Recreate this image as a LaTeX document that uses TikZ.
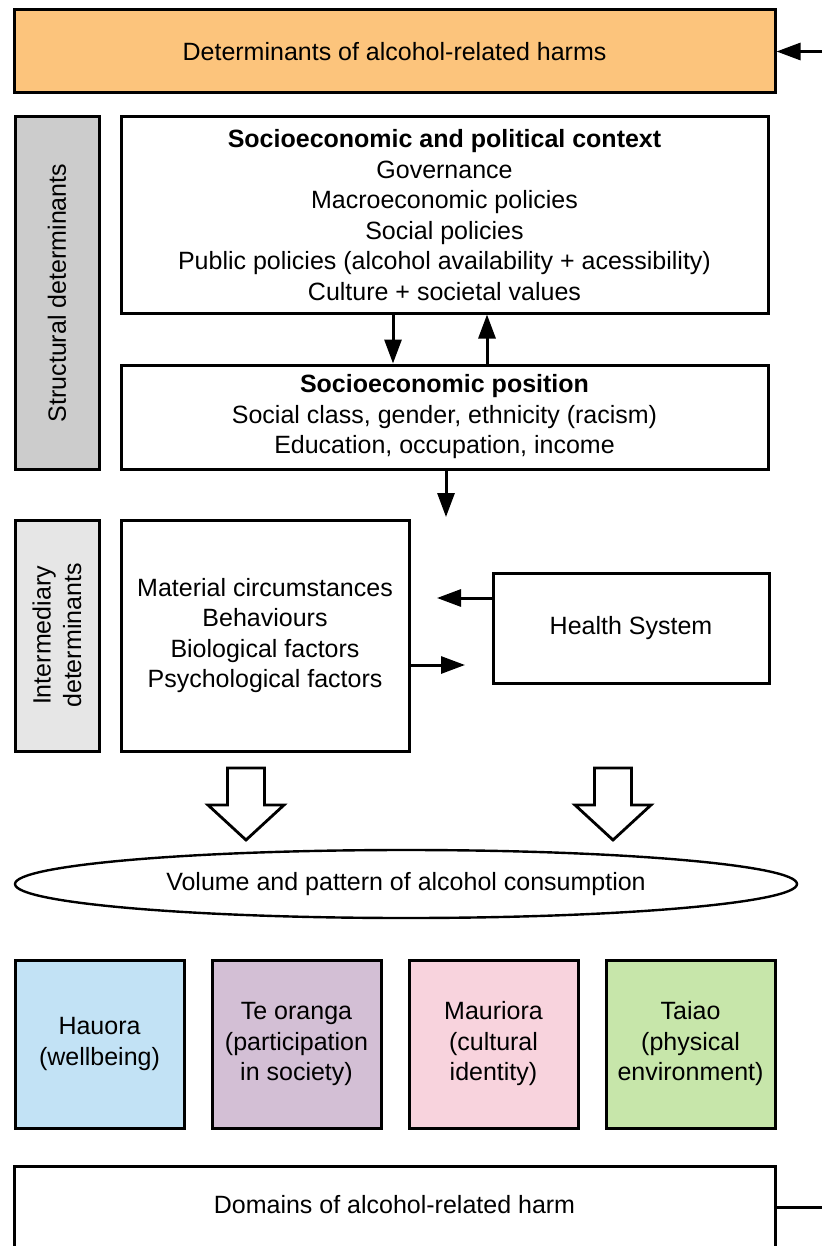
\documentclass[tikz,border=0pt]{standalone}
\usepackage{fontspec}
\setmainfont{Liberation Sans}
\usetikzlibrary{arrows.meta,shapes.geometric}
\definecolor{orangebox}{HTML}{FCC47C}
\definecolor{greydark}{HTML}{CCCCCC}
\definecolor{greylight}{HTML}{E6E6E6}
\definecolor{bluebox}{HTML}{C2E2F5}
\definecolor{purplebox}{HTML}{D3BFD5}
\definecolor{pinkbox}{HTML}{F8D3DD}
\definecolor{greenbox}{HTML}{C7E6AA}
\begin{document}
\begin{tikzpicture}[x=1pt,y=-1pt,
  txt/.style={font=\fontsize{25}{30.5}\selectfont},
  box/.style={draw, line width=3pt, inner sep=0pt, align=center, txt},
  arr/.style={line width=3pt, -{Triangle[length=24pt,width=17pt]}},
  hollow/.style={draw, line width=2.8pt, fill=white, line join=miter}]
\useasboundingbox (0,0) rectangle (822,1246);
\clip (0,0) rectangle (822,1246);

\node[box, fill=orangebox, minimum width=761pt, minimum height=83pt] (det) at (394.5,51.5) {Determinants of alcohol-related harms};
\coordinate (detin) at (822,51.5);
\draw[arr] (detin) -- (det.east);

\node[box, fill=greydark, minimum width=84pt, minimum height=352pt] (struct) at (57,293) {};
\node[txt, rotate=90] (structlbl) at (57,293) {Structural determinants};

\node[box, minimum width=647pt, minimum height=196pt] (ctx) at (444.5,215) {\textbf{Socioeconomic and political context}\\Governance\\Macroeconomic policies\\Social policies\\Public policies (alcohol availability + acessibility)\\Culture + societal values};

\node[box, minimum width=647pt, minimum height=104pt] (pos) at (444.5,417) {\textbf{Socioeconomic position}\\Social class, gender, ethnicity (racism)\\Education, occupation, income};

\draw[arr] ([xshift=-51.5pt]ctx.south) -- ([xshift=-51.5pt]pos.north);
\draw[arr] ([xshift=42.5pt]pos.north) -- ([xshift=42.5pt]ctx.south);

\coordinate (posout) at (446,517);
\draw[arr] (pos.south -| posout) -- (posout);

\node[box, fill=greylight, minimum width=84pt, minimum height=231pt] (inter) at (57,635.5) {};
\node[txt, rotate=90, align=center] (interlbl) at (57,635.5) {Intermediary\\determinants};

\node[box, minimum width=288pt, minimum height=231pt] (mat) at (265,635.5) {Material circumstances\\Behaviours\\Biological factors\\Psychological factors};

\node[box, minimum width=276pt, minimum height=110pt] (health) at (631,628) {Health System};

\coordinate (hm) at (437,598);
\draw[arr] (health.west |- hm) -- (hm);
\coordinate (mh) at (465,665);
\draw[arr] (mat.east |- mh) -- (mh);

\foreach \cx in {246,613}{
  \draw[hollow] (\cx-18.5,768) -- (\cx+18.5,768) -- (\cx+18.5,805) -- (\cx+38,805) -- (\cx,840) -- (\cx-38,805) -- (\cx-18.5,805) -- cycle;
}

\node[box, ellipse, line width=2.4pt, minimum width=782pt, minimum height=68pt] (vol) at (406,884) {Volume and pattern of alcohol consumption};

\node[box, fill=bluebox, minimum width=169pt, minimum height=168pt] (hauora) at (99.5,1044) {Hauora\\(wellbeing)};
\node[box, fill=purplebox, minimum width=169pt, minimum height=168pt] (oranga) at (296.5,1044) {Te oranga\\(participation\\in society)};
\node[box, fill=pinkbox, minimum width=169pt, minimum height=168pt] (mauri) at (493.5,1044) {Mauriora\\(cultural\\identity)};
\node[box, fill=greenbox, minimum width=169pt, minimum height=168pt] (taiao) at (690.5,1044) {Taiao\\(physical\\environment)};

\node[box, minimum width=761pt, minimum height=140pt, anchor=north] (dom) at (394.5,1165) {};
\node[txt] (domlbl) at (394.5,1205) {Domains of alcohol-related harm};
\coordinate (domout) at (822,1207);
\draw[line width=3pt] (dom.east |- domout) -- (domout);
\end{tikzpicture}
\end{document}
